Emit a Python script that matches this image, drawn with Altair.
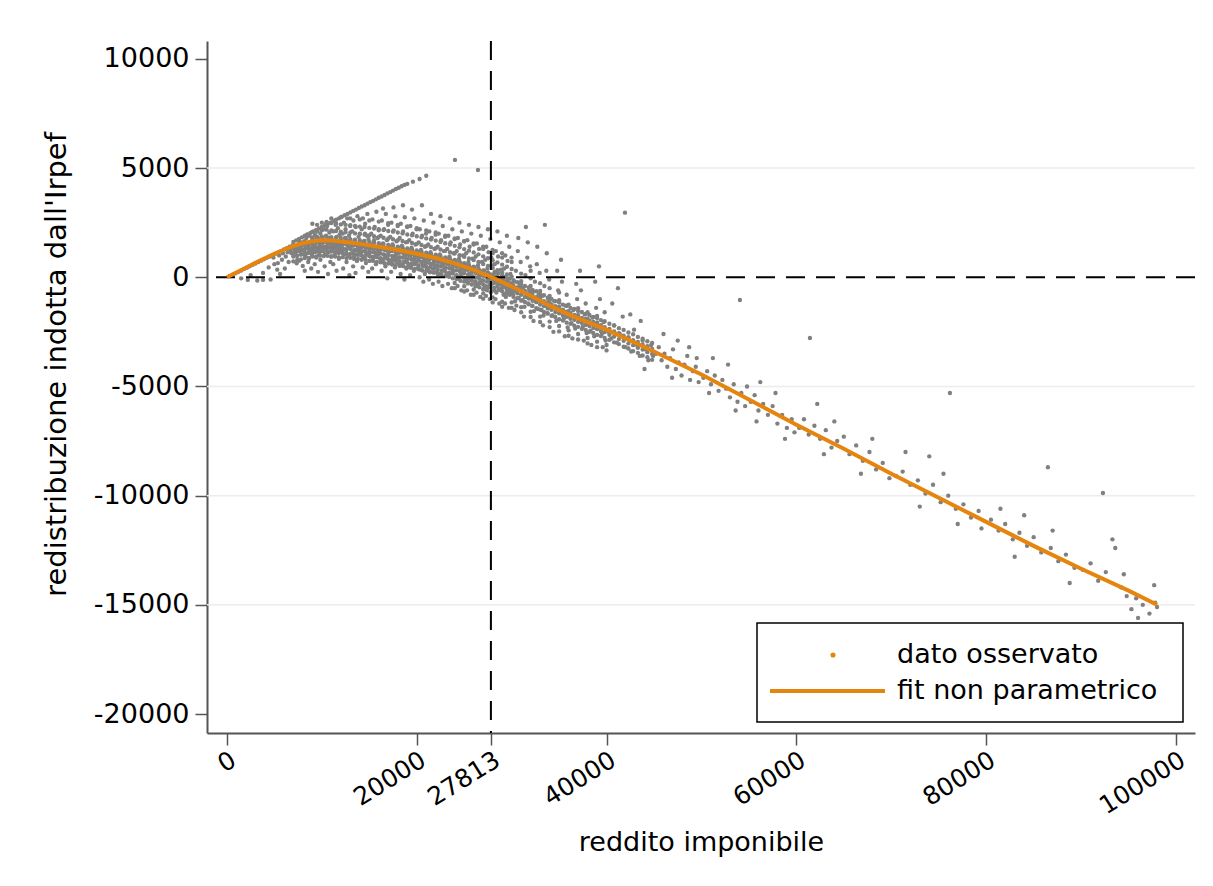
import altair as alt
import pandas as pd

# ---------------- data ----------------
x_ticks = [0, 20000, 27813, 40000, 60000, 80000, 100000]
y_ticks = [-20000, -15000, -10000, -5000, 0, 5000, 10000]
grid_y = [5000, -5000, -10000, -15000]
threshold_x = [27813]
zero_y = [0]
legend_labels = ["dato osservato", "fit non parametrico"]

fit_x = [0, 1000, 2000, 3000, 4000, 5000, 6000, 7000, 8000, 9000, 10000, 11000,
         12000, 13000, 14000, 16000, 18000, 20000, 22000, 24000, 26000, 28000,
         30000, 32000, 34000, 36000, 38000, 40000, 45000, 50000, 55000, 60000,
         65000, 70000, 75000, 80000, 85000, 90000, 95000, 98000]
fit_y = [0, 220, 440, 660, 870, 1070, 1260, 1430, 1560, 1650, 1690, 1680,
         1640, 1590, 1530, 1400, 1250, 1080, 880, 640, 340, -20,
         -420, -850, -1300, -1700, -2050, -2400, -3400, -4450, -5600, -6750,
         -7850, -9000, -10100, -11200, -12300, -13350, -14350, -15000]

# observed points, low incomes
base_pts = [(300, 50), (600, 120), (900, 180), (1200, 250), (1500, 310), (1800, 380),
            (2100, 440), (2400, 500), (2700, 570), (3000, 630), (3300, 700), (3600, 760),
            (3900, 820), (4200, 890), (4500, 950), (4800, 1010), (5100, 1080), (5400, 1140),
            (5700, 1200), (6000, 1270), (6300, 1330), (6600, 1400), (6900, 1460),
            (2500, 100), (3200, -150), (3800, 200), (4400, 450), (5000, 600), (5300, 350),
            (5800, 800), (6200, 950), (6500, 700), (6800, 1100), (1500, -50), (2200, -120),
            (4600, -100), (5600, 150), (3800, -120), (5370, 650), (6100, 400),
            (4900, 900), (5500, 1000), (6400, 1150), (6700, 1250), (5900, 1100)]

# upper edge of the cloud
edge_pts = [(7000, 1620), (7300, 1690), (7600, 1760), (7900, 1830), (8200, 1900), (8500, 1960),
            (8800, 2030), (9100, 2100), (9400, 2170), (9700, 2240), (10000, 2300), (10300, 2370),
            (10600, 2440), (10900, 2500), (11200, 2570), (11500, 2640), (11800, 2700), (12100, 2770),
            (12400, 2840), (12700, 2900), (13000, 2970), (13300, 3040), (13600, 3100), (13900, 3170),
            (14200, 3240), (14500, 3300), (14800, 3370), (15100, 3440), (15400, 3500), (15700, 3570),
            (16000, 3640), (16300, 3700), (16600, 3770), (16900, 3840), (17200, 3900), (17500, 3970),
            (17800, 4040), (18100, 4100), (18400, 4170), (18700, 4230), (19000, 4280), (19600, 4380),
            (20300, 4500), (21000, 4650)]

# dense band just under the fitted curve (x, several y values)
band_rows = [
    (7000, [1330, 1120, 950, 730]), (7400, [1390, 1190, 980, 790]), (7800, [1450, 1230, 1040, 820]),
    (8200, [1470, 1280, 1070, 880]), (8600, [1540, 1300, 1120, 890]), (9000, [1550, 1350, 1140, 950]),
    (9400, [1590, 1360, 1180, 950]), (9800, [1580, 1400, 1170, 990]), (10200, [1610, 1370, 1200, 970]),
    (10600, [1580, 1380, 1170, 980]), (11000, [1580, 1350, 1180, 950]), (11400, [1540, 1350, 1140, 950]),
    (11800, [1540, 1320, 1140, 910]), (12200, [1510, 1330, 1110, 920]), (12600, [1510, 1290, 1110, 880]),
    (13000, [1470, 1290, 1070, 890]), (13400, [1460, 1240, 1070, 840]), (13800, [1420, 1240, 1030, 840]),
    (14200, [1420, 1200, 1020, 800]), (14600, [1380, 1190, 980, 800]), (15000, [1370, 1150, 970, 750]),
    (15400, [1330, 1150, 930, 750]), (15800, [1320, 1100, 920, 700]), (16200, [1270, 1090, 870, 690]),
    (16600, [1260, 1040, 860, 640]), (17000, [1210, 1030, 810, 630]), (17400, [1200, 980, 800, 580]),
    (17800, [1150, 970, 750, 570]), (18200, [1140, 920, 740, 520]), (18600, [1090, 910, 690, 510]),
    (19000, [1070, 850, 670, 450]), (19400, [1020, 840, 620, 440]), (19800, [1000, 780, 600, 380]),
    (20200, [950, 770, 550, 370]), (20600, [930, 710, 530, 310]), (21000, [870, 690, 470, 290]),
    (21400, [850, 630, 450, 230]), (21800, [790, 610, 390, 210]), (22200, [770, 550, 370, 150]),
    (22600, [700, 520, 300, 120]), (23000, [670, 450, 270, 50]), (23400, [600, 420, 200, 20]),
    (23800, [570, 350, 170, -50]), (24200, [500, 320, 100, -80]), (24600, [460, 240, 60, -160]),
    (25000, [380, 200, -20, -200]), (25400, [340, 120, -60, -280]), (25800, [250, 70, -150, -330]),
    (26200, [210, -10, -190, -410]), (26600, [120, -60, -280, -460]), (27000, [70, -150, -330, -550]),
    (27400, [-20, -200, -420, -600]), (27800, [-70, -290, -470, -690]), (28200, [250, 20, -250, -480]),
    (28600, [190, -80, -310, -580]), (29000, [90, -140, -410, -640]), (29400, [30, -240, -470, -740]),
    (29800, [-70, -300, -570, -800]), (30200, [-130, -400, -630, -900]), (30600, [-230, -460, -730, -960]),
    (31000, [-300, -570, -800, -1070]), (31400, [-400, -630, -900, -1130]), (31800, [-470, -740, -970, -1240]),
    (32200, [-580, -810, -1080, -1310]), (32600, [-640, -910, -1140, -1410]), (33000, [-750, -980, -1250, -1480]),
    (33400, [-820, -1090, -1320, -1590]), (33800, [-930, -1160, -1430, -1660]), (34200, [-990, -1260, -1490, -1760]),
    (34600, [-1090, -1320, -1590, -1820]), (35000, [-1150, -1420, -1650, -1920]), (35400, [-1250, -1480, -1750, -1980]),
    (35800, [-1310, -1580, -1810, -2080]), (36200, [-1400, -1630, -1900, -2130]), (36600, [-1450, -1720, -1950, -2220]),
    (37000, [-1540, -1770, -2040, -2270]), (37400, [-1590, -1860, -2090, -2360]), (37800, [-1680, -1910, -2180, -2410]),
    (38200, [-1730, -2000, -2230, -2500]), (38600, [-1820, -2050, -2320, -2550]), (39000, [-1870, -2140, -2370, -2640]),
    (39400, [-1960, -2190, -2460, -2690]), (39800, [-2010, -2280, -2510, -2780]), (40300, [-2130, -2360, -2630, -2860]),
    (40800, [-2210, -2480, -2710, -2980]), (41300, [-2330, -2560, -2830, -3060]), (41800, [-2410, -2680, -2910, -3180]),
    (42300, [-2530, -2760, -3030, -3260]), (42800, [-2610, -2880, -3110, -3380]), (43300, [-2730, -2960, -3230, -3460]),
    (43800, [-2810, -3080, -3310, -3580]), (44300, [-2930, -3160, -3430, -3660]), (44800, [-3010, -3280, -3510, -3780]),
]

# medium-density part of the cloud above the fitted curve
upper_rows = [
    (9000, [1820, 2080, 2450]), (9500, [1850, 2120, 2400]), (10000, [1870, 2150, 2500]),
    (10500, [1860, 2180, 2530]), (11000, [1840, 2150, 2480, 2700]), (11500, [1830, 2120, 2460]),
    (12000, [1800, 2090, 2420, 2750]), (12500, [1790, 2060, 2400]), (13000, [1750, 2050, 2380, 2700]),
    (13500, [1720, 2010, 2350]), (14000, [1700, 1980, 2320, 2650]), (14500, [1660, 1950, 2300]),
    (15000, [1620, 1920, 2260, 2600]), (15500, [1590, 1880, 2230]), (16000, [1560, 1850, 2200, 2550]),
    (16500, [1520, 1810, 2160]), (17000, [1480, 1780, 2120, 2480]), (17500, [1450, 1740, 2090]),
    (18000, [1400, 1700, 2050, 2400]), (18500, [1370, 1660, 2010]), (19000, [1320, 1620, 1960, 2330]),
    (19500, [1280, 1570, 1920]), (20000, [1230, 1530, 1880, 2250]), (20500, [1180, 1480, 1830]),
    (21000, [1130, 1430, 1780, 2150]), (21500, [1080, 1380, 1730]), (22000, [1030, 1330, 1680, 2050]),
    (22500, [970, 1270, 1620]), (23000, [910, 1210, 1560, 1900]), (23500, [850, 1150, 1500]),
    (24000, [790, 1090, 1440, 1780]), (24500, [720, 1010, 1370]), (25000, [640, 940, 1290, 1650]),
    (25500, [570, 860, 1220]), (26000, [490, 790, 1140, 1500]), (26500, [400, 700, 1050]),
    (27000, [310, 610, 960, 1300]), (27500, [220, 520, 870]), (28000, [130, 430, 780, 1100]),
    (28500, [30, 330, 680]), (29000, [-70, 230, 580, 900]), (29500, [-170, 130, 480]),
    (30000, [-270, 30, 380, 700]), (31000, [-480, -180, 170]), (32000, [-700, -400, -50, 300]),
    (33000, [-920, -620, -270]), (34000, [-1150, -850, -500]), (35000, [-1350, -1050, -700]),
    (36000, [-1550, -1250]), (37000, [-1720, -1420]), (38000, [-1900, -1600]), (39000, [-2070, -1770]),
]

# lower fringe of the band
lower_rows = [
    (24000, [-260, -500]), (25000, [-410, -650]), (26000, [-560, -800]), (27000, [-740, -980]),
    (28000, [-920, -1150]), (29000, [-1120, -1350]), (30000, [-1150, -1400]), (31000, [-1370, -1600]),
    (32000, [-1580, -1820]), (33000, [-1800, -2050]), (34000, [-2030, -2280]), (35000, [-2230, -2480]),
    (36000, [-2430, -2680]), (37000, [-2600, -2850]), (38000, [-2780, -3030]), (39000, [-2950, -3200]),
    (40000, [-3100, -3350]),
]

# scattered cloud 7000 - 30000
core_pts = [
    (7050, 1380), (7150, 1250), (7230, 1120), (7310, 1460), (7400, 980), (7480, 1300), (7560, 1520),
    (7620, 760), (7700, 1180), (7780, 1400), (7850, 1050), (7930, 1600), (7990, 520), (7350, 640),
    (7600, 1680), (7900, 1280),
    (8030, 1480), (8100, 1220), (8170, 1650), (8240, 980), (8300, 1350), (8370, 1800), (8430, 1100),
    (8500, 1550), (8560, 700), (8620, 1400), (8690, 1900), (8750, 1250), (8810, 1620), (8880, 400),
    (8940, 1050), (8980, 1750), (8200, 300), (8650, 850), (8450, 1950),
    (9020, 1500), (9090, 1300), (9150, 1700), (9210, 1150), (9280, 1950), (9340, 1420), (9410, 900),
    (9470, 1600), (9530, 2100), (9590, 1250), (9650, 1780), (9720, 1050), (9780, 1480), (9840, 2000),
    (9900, 1350), (9960, 1650), (9250, 600), (9600, 250), (9850, 800), (9400, 1850),
    (10020, 1550), (10080, 1200), (10140, 1750), (10200, 2200), (10260, 1400), (10320, 1050),
    (10380, 1650), (10440, 1900), (10500, 1300), (10560, 2350), (10620, 1500), (10680, 1150),
    (10740, 1800), (10800, 2050), (10860, 1350), (10920, 1600), (10980, 950), (10300, 500),
    (10650, 150), (10900, 700), (10450, 2450),
    (11030, 1500), (11090, 1250), (11150, 1700), (11210, 2100), (11270, 1380), (11330, 1000),
    (11390, 1600), (11450, 2400), (11510, 1200), (11570, 1850), (11630, 1450), (11690, 2250),
    (11750, 1100), (11810, 1650), (11870, 1950), (11930, 1300), (11990, 1550), (11200, 600),
    (11550, 300), (11800, 850), (11400, 2550),
    (12020, 1450), (12080, 1150), (12140, 1650), (12200, 2000), (12260, 1300), (12320, 2500),
    (12380, 1050), (12440, 1550), (12500, 2200), (12560, 1250), (12620, 1700), (12680, 2700),
    (12740, 1400), (12800, 1000), (12860, 1900), (12920, 1500), (12980, 2350), (12250, 400),
    (12600, 700), (12900, 100), (12450, 1800),
    (13030, 1350), (13090, 1600), (13150, 1100), (13210, 2100), (13270, 1450), (13330, 2600),
    (13390, 950), (13450, 1700), (13510, 1250), (13570, 2300), (13630, 1550), (13690, 1050),
    (13750, 2800), (13810, 1400), (13870, 1850), (13930, 1150), (13990, 2000), (13300, 500),
    (13700, 750), (13550, 200),
    (14020, 1300), (14080, 1550), (14140, 1000), (14200, 2200), (14260, 1400), (14320, 2700),
    (14380, 900), (14440, 1650), (14500, 1200), (14560, 2450), (14620, 1500), (14680, 1050),
    (14740, 1900), (14800, 2900), (14860, 1350), (14920, 1750), (14980, 1100), (14300, 450),
    (14650, 650), (14900, 250), (14550, 2000),
    (15030, 1250), (15090, 1500), (15150, 950), (15210, 2000), (15270, 1350), (15330, 2650),
    (15390, 850), (15450, 1600), (15510, 1150), (15570, 2300), (15630, 1400), (15690, 1000),
    (15750, 3000), (15810, 1300), (15870, 1800), (15930, 1050), (15990, 2150), (15300, 400),
    (15700, 600), (15500, 1700),
    (16020, 1200), (16080, 1450), (16140, 850), (16200, 1900), (16260, 1300), (16320, 2600),
    (16380, 750), (16440, 1550), (16500, 1050), (16560, 2200), (16620, 1350), (16680, 900),
    (16740, 2900), (16800, 1250), (16860, 1700), (16920, 950), (16980, 2400), (16300, 300),
    (16700, 500), (16900, -50), (16450, 3150),
    (17030, 1150), (17090, 1400), (17150, 750), (17210, 1850), (17270, 1200), (17330, 2500),
    (17390, 650), (17450, 1500), (17510, 950), (17570, 2150), (17630, 1300), (17690, 800),
    (17750, 2800), (17810, 1100), (17870, 1650), (17930, 850), (17990, 2350), (17300, 250),
    (17700, 450), (17550, 3200),
    (18020, 1100), (18080, 1350), (18140, 650), (18200, 1800), (18260, 1150), (18320, 2450),
    (18380, 550), (18440, 1450), (18500, 900), (18560, 2100), (18620, 1250), (18680, 700),
    (18740, 2750), (18800, 1000), (18860, 1600), (18920, 800), (18980, 2300), (18300, 150),
    (18700, -100), (18550, 3300), (18900, 400),
    (19030, 1050), (19090, 1250), (19150, 550), (19210, 1700), (19270, 1000), (19330, 2350),
    (19390, 450), (19450, 1350), (19510, 800), (19570, 2000), (19630, 1150), (19690, 600),
    (19750, 2700), (19810, 900), (19870, 1500), (19930, 700), (19990, 2200), (19300, 100),
    (19700, 300), (19500, 3100),
    (20020, 950), (20080, 1150), (20140, 450), (20200, 1600), (20260, 900), (20320, 2200),
    (20380, 350), (20440, 1250), (20500, 700), (20560, 1900), (20620, 1050), (20680, 500),
    (20740, 2600), (20800, 800), (20860, 1400), (20920, 600), (20980, 2000), (20300, 0),
    (20700, -200), (20550, 3300), (20850, 150),
    (21030, 900), (21090, 1050), (21150, 350), (21210, 1500), (21270, 800), (21330, 2100),
    (21390, 250), (21450, 1150), (21510, 600), (21570, 1800), (21630, 950), (21690, 400),
    (21750, 2500), (21810, 700), (21870, 1300), (21930, 500), (21990, 1950), (21300, -100),
    (21700, -300), (21500, 2900),
    (22020, 800), (22080, 950), (22140, 250), (22200, 1400), (22260, 700), (22320, 2000),
    (22380, 150), (22440, 1050), (22500, 500), (22560, 1700), (22620, 850), (22680, 300),
    (22740, 2350), (22800, 600), (22860, 1200), (22920, 400), (22980, 1850), (22300, -200),
    (22700, -400), (22500, 2800),
    (23030, 700), (23090, 850), (23150, 150), (23210, 1300), (23270, 600), (23330, 1900),
    (23390, 50), (23450, 950), (23510, 400), (23570, 1600), (23630, 750), (23690, 200),
    (23750, 2200), (23810, 500), (23870, 1100), (23930, 300), (23990, 1750), (23300, -300),
    (23700, -500), (23500, 2700),
    (24025, 5373), (24030, 650), (24090, 750), (24150, 50), (24210, 1200), (24270, 500),
    (24330, 1800), (24390, -50), (24450, 850), (24510, 300), (24570, 1500), (24630, 650),
    (24690, 100), (24750, 2100), (24810, 400), (24870, 1000), (24930, 200), (24990, 1650),
    (24300, -400), (24700, -600), (24500, 2500),
    (25030, 500), (25090, 600), (25150, -100), (25210, 1100), (25270, 350), (25330, 1700),
    (25390, -200), (25450, 700), (25510, 150), (25570, 1400), (25630, 450), (25690, -50),
    (25750, 2000), (25810, 250), (25870, 850), (25930, 0), (25990, 1550), (25300, -600),
    (25700, -800), (25500, 2400),
    (26450, 4914), (26030, 350), (26090, 450), (26150, -250), (26210, 950), (26270, 200),
    (26330, 1550), (26390, -350), (26460, 550), (26510, 0), (26570, 1300), (26630, 300),
    (26690, -200), (26750, 1900), (26810, 100), (26870, 700), (26930, -150), (26990, 1400),
    (26300, -700), (26700, -900), (26500, 2300),
    (27030, 200), (27090, 300), (27150, -400), (27210, 800), (27270, 50), (27330, 1400),
    (27390, -500), (27450, 400), (27510, -150), (27570, 1150), (27630, 150), (27690, -350),
    (27750, 1750), (27810, -50), (27870, 550), (27930, -300), (27990, 1250), (27300, -850),
    (27700, -1000), (27500, 2200), (27850, 900),
    (28030, -100), (28090, 100), (28150, -600), (28210, 600), (28270, -200), (28330, 1200),
    (28390, -700), (28450, 200), (28510, -400), (28570, 950), (28630, -50), (28690, -550),
    (28750, 1600), (28810, -250), (28870, 350), (28930, -500), (28990, 1100), (28300, -1000),
    (28700, -1200), (28500, 2100),
    (29030, -300), (29090, -100), (29150, -800), (29210, 400), (29270, -450), (29330, 1000),
    (29390, -900), (29450, 0), (29510, -600), (29570, 750), (29630, -250), (29690, -750),
    (29750, 1400), (29810, -450), (29870, 150), (29930, -700), (29990, 900), (29300, -1200),
    (29700, -1400), (29500, 1900),
]

# 30000 - 40000
mid_pts = [
    (30050, -500), (30150, -800), (30250, -200), (30350, -1100), (30450, 300), (30550, -650),
    (30650, 1200), (30750, -950), (30850, -350), (30950, 700), (30300, -1500), (30700, 1800),
    (30500, -1300),
    (31050, -750), (31150, -1050), (31250, -450), (31350, -1350), (31450, 100), (31550, -900),
    (31650, 900), (31750, -1200), (31850, -600), (31950, 500), (31300, -1800), (31700, 1600),
    (31500, 2300),
    (32050, -950), (32150, -1300), (32250, -650), (32350, -1550), (32450, -200), (32550, -1100),
    (32650, 600), (32750, -1450), (32850, -800), (32950, 200), (32300, -2000), (32700, 1400),
    (33050, -1150), (33150, -1500), (33250, -850), (33350, -1750), (33450, -400), (33550, -1300),
    (33650, 300), (33750, -1650), (33850, -1000), (33950, -100), (33300, -2200), (33700, 1100),
    (33500, 2400),
    (34100, -1400), (34300, -1750), (34500, -1100), (34700, -2000), (34900, -600), (35100, -1600),
    (35300, -200), (35500, -1900), (35700, -1300), (35900, -2300), (34400, -2500), (35200, 800),
    (35800, -800), (34800, 300), (35600, -2700),
    (36100, -1800), (36300, -2100), (36500, -1500), (36700, -2350), (36900, -1000), (37100, -1950),
    (37300, -600), (37500, -2250), (37700, -1700), (37900, -2550), (36400, -2800), (37200, 300),
    (37800, -1200), (36800, -300), (37600, -2900),
    (38100, -2150), (38300, -2450), (38500, -1850), (38700, -2700), (38900, -1400), (39100, -2300),
    (39300, -1000), (39500, -2600), (39700, -2050), (39900, -2900), (38400, -3100), (39200, 500),
    (39800, -1600), (38800, -200), (39600, -3200),
]

# above 40000
tail_pts = [
    (41940, 2960), (40200, -2500), (40500, -2800), (40800, -2200), (41100, -3000), (41400, -2600),
    (41700, -1800), (42000, -3200), (42300, -2750), (42600, -3400), (42900, -2400), (43200, -3100),
    (43500, -3600), (43800, -2900), (44100, -3300), (44400, -3800), (44700, -3100), (40600, -1200),
    (41200, -500), (42500, -1700), (43600, -2000), (44000, -4200), (44900, -3600),
    (45200, -3500), (45500, -3200), (45800, -3800), (46100, -3500), (46400, -4100), (46700, -3700),
    (47000, -3300), (47300, -4200), (47600, -3900), (47900, -4500), (48200, -4000), (48500, -3600),
    (48800, -4700), (49100, -4300), (49400, -4100), (49700, -4800), (46000, -2600), (47500, -2900),
    (48700, -3200), (49500, -3700), (46900, -4600),
    (54050, -1040), (50200, -4600), (50600, -4300), (51000, -4900), (51400, -4500), (51800, -5200),
    (52200, -4700), (52600, -5100), (53000, -5500), (53400, -4900), (53800, -5700), (54200, -5300),
    (54600, -5900), (51200, -3700), (52800, -4000), (53600, -6100), (50800, -5300), (54800, -5000),
    (55200, -5700), (55600, -5400), (56000, -6100), (56500, -5800), (57000, -6300), (57500, -5900),
    (58000, -6700), (58500, -6300), (59000, -6900), (59500, -6500), (56200, -4800), (57800, -5300),
    (58800, -7400), (59800, -7100), (55800, -6600),
    (61430, -2780), (60300, -6900), (60800, -6500), (61300, -7200), (61900, -6800), (62500, -7400),
    (63100, -7000), (63700, -7800), (64300, -7500), (65000, -7300), (65600, -8100), (66300, -7700),
    (67000, -8400), (67700, -8000), (68400, -8800), (69100, -8500), (69800, -9200), (62200, -5800),
    (64000, -6600), (66800, -9000), (68000, -7400), (62900, -8100),
    (76180, -5300), (70500, -9100), (71200, -8900), (72000, -9500), (72800, -9300), (73600, -9900),
    (74400, -9500), (75200, -10300), (76000, -10000), (76800, -10600), (77600, -10400),
    (78400, -11000), (79200, -10700), (71500, -8000), (73000, -10500), (75500, -9000),
    (77000, -11300), (79500, -11500), (74000, -8200),
    (86500, -8700), (80500, -11100), (81300, -11600), (82000, -11300), (82800, -12000),
    (83500, -11700), (84300, -12300), (85000, -11900), (85800, -12600), (86800, -12400),
    (87600, -13000), (88400, -12700), (89300, -13300), (81500, -10600), (84000, -10900),
    (87000, -11600), (88800, -14000), (83000, -12800),
    (92300, -9880), (90200, -13400), (91000, -13100), (91800, -13900), (92600, -13500),
    (93300, -12000), (93600, -12400), (94200, -14200), (94800, -14600), (95300, -15200),
    (95800, -14700), (96500, -15000), (97200, -15400), (97800, -14900), (98000, -15100),
    (97700, -14100), (96000, -15600), (94500, -13600),
]

# ---------------- build tables ----------------
row_pts = [(rx, ry) for rows in (band_rows, upper_rows, lower_rows) for rx, rys in rows for ry in rys]
all_pts = base_pts + edge_pts + row_pts + core_pts + mid_pts + tail_pts
obs = pd.DataFrame(all_pts, columns=["x", "y"])
fit = pd.DataFrame({"x": fit_x, "y": fit_y})
grid = pd.DataFrame({"y": grid_y})
vline = pd.DataFrame({"x": threshold_x})
hline = pd.DataFrame({"y": zero_y})
one = pd.DataFrame({"k": [0]})

FONT = "DejaVu Sans"
ORANGE = "#e6850e"
GREY = "#808080"
AXC = "#555555"
LABEL_EXPR = "datum.value < 0 ? '-' + abs(datum.value) : '' + datum.value"

xs = alt.Scale(domain=[-2100, 102000], nice=False, zero=False)
ys = alt.Scale(domain=[-20870, 10820], nice=False, zero=False)

x_axis = alt.Axis(values=x_ticks, labelExpr=LABEL_EXPR, labelAngle=-32, labelFontSize=25,
                  labelFont=FONT, labelColor="#000000", tickSize=12, tickColor=AXC,
                  tickWidth=1.5, domainColor=AXC, domainWidth=2, grid=False,
                  labelPadding=2, title="reddito imponibile", titleFont=FONT,
                  titleFontSize=27, titleFontWeight="normal", titleColor="#000000",
                  titleY=96, titleBaseline="top", labelOverlap=False)
y_axis = alt.Axis(values=y_ticks, labelExpr=LABEL_EXPR, labelFontSize=27, labelFont=FONT,
                  labelColor="#000000", tickSize=12, tickColor=AXC, tickWidth=1.5,
                  domainColor=AXC, domainWidth=2, grid=False, labelPadding=6,
                  title="redistribuzione indotta dall'Irpef", titleFont=FONT,
                  titleFontSize=29, titleFontWeight="normal", titleColor="#000000",
                  titleX=-136, titleY=323, titleBaseline="bottom", labelOverlap=False)

grid_layer = alt.Chart(grid).mark_rule(color="#ececec", strokeWidth=1.5).encode(
    y=alt.Y("y:Q", scale=ys, axis=y_axis))

pts_layer = alt.Chart(obs).mark_circle(size=19, color=GREY, opacity=1).encode(
    x=alt.X("x:Q", scale=xs, axis=x_axis),
    y=alt.Y("y:Q", scale=ys))

h_layer = alt.Chart(hline).mark_rule(color="#000000", strokeWidth=2,
                                     strokeDash=[19, 11]).encode(y=alt.Y("y:Q", scale=ys))
v_layer = alt.Chart(vline).mark_rule(color="#000000", strokeWidth=2,
                                     strokeDash=[19, 11]).encode(x=alt.X("x:Q", scale=xs))

fit_layer = alt.Chart(fit).mark_line(color=ORANGE, strokeWidth=4).encode(
    x=alt.X("x:Q", scale=xs), y=alt.Y("y:Q", scale=ys))

# legend box (drawn in pixel space of the plot area)
leg_box = alt.Chart(one).mark_rect(fill="#ffffff", stroke="#000000", strokeWidth=1.5).encode(
    x=alt.value(550), x2=alt.value(976), y=alt.value(582), y2=alt.value(681))
leg_dot = alt.Chart(one).mark_circle(size=26, color=ORANGE, opacity=1).encode(
    x=alt.value(626), y=alt.value(614))
leg_line = alt.Chart(one).mark_rule(color=ORANGE, strokeWidth=4).encode(
    x=alt.value(563), x2=alt.value(678), y=alt.value(650))
leg_t1 = alt.Chart(one).mark_text(align="left", baseline="middle", font=FONT, fontSize=27,
                                  color="#000000").encode(
    x=alt.value(690), y=alt.value(614), text=alt.value(legend_labels[0]))
leg_t2 = alt.Chart(one).mark_text(align="left", baseline="middle", font=FONT, fontSize=27,
                                  color="#000000").encode(
    x=alt.value(690), y=alt.value(650), text=alt.value(legend_labels[1]))

chart = alt.layer(grid_layer, pts_layer, h_layer, v_layer, fit_layer,
                  leg_box, leg_dot, leg_line, leg_t1, leg_t2).properties(
    width=988, height=692,
    autosize=alt.AutoSizeParams(type="none"),
    padding={"left": 207, "top": 41, "right": 18, "bottom": 153},
    background="#ffffff",
).configure_view(stroke=None)

chart.save("out.html", embed_options={"renderer": "svg", "actions": False})
